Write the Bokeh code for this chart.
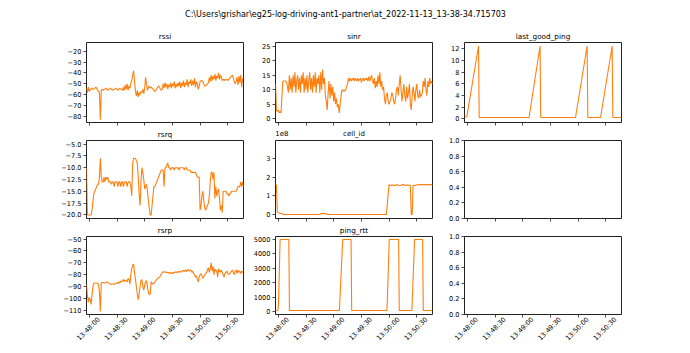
import numpy as np
import pandas as pd
from bokeh.plotting import figure
from bokeh.layouts import column, row
from bokeh.models import Range1d, FixedTicker, LinearAxis, ColumnDataSource
from bokeh.embed import file_html
from bokeh.resources import INLINE

# ---------------- data ----------------
SUPTITLE = r"C:\Users\grishar\eg25-log-driving-ant1-partner\at_2022-11-13_13-38-34.715703"
DAY = "2022-11-13"
T_START = pd.Timestamp("2022-11-13 13:47:56.900")
T_END = pd.Timestamp("2022-11-13 13:50:46.900")

x_tick_labels = ["13:48:00", "13:48:30", "13:49:00", "13:49:30", "13:50:00", "13:50:30"]

# 1-second samples starting at T_START
rssi = [-54, -58, -53, -57,
        -55, -55, -54, -55, -55,
        -54, -53, -54,
        -56, -57,
        -58, -83, -56,
        -55, -56, -55, -55, -54, -55, -56, -55, -55, -54, -55, -56, -55, -55, -55, -54, -55, -56, -55, -54, -55, -55, -56,
        -53, -56, -51, -55, -50, -56, -52, -54, -49,
        -47, -42, -38, -48,
        -57, -61, -56, -62, -58, -60, -57,
        -58, -55, -59, -54,
        -44, -50, -56,
        -53, -52, -54, -53,
        -54, -55, -56, -57, -56, -55, -53, -52, -53, -55, -56, -55,
        -50, -54, -49, -53, -50, -55, -51, -53, -49, -54, -50, -52, -48, -54, -50, -53, -49, -52, -48, -54,
        -49, -52, -47, -53, -49, -51, -46, -53, -48, -50, -46, -52, -47, -51, -45, -53, -48, -50, -55, -52,
        -48, -47, -47, -48, -50, -52, -52, -51, -50, -49,
        -44, -48, -42, -47, -43, -46, -41, -47, -43, -45, -40, -46, -42, -44, -47,
        -46, -46, -47, -46, -46, -47, -46, -45, -44, -43,
        -42, -45, -48, -50, -48,
        -44, -51, -43, -49, -42, -53, -45, -46]

sinr = [12, 3, 2.5, 3, 2, 2.5, 2, 8, 13, 13, 13, 13, 12.5, 11, 9,
        15, 10, 14, 9, 15, 11, 16, 9, 13, 15, 10, 14, 9, 15, 12, 16, 9, 14, 10, 15,
        9, 13, 16, 10, 14, 9, 15, 11, 16, 9, 14, 12, 15, 9, 16, 10, 17, 12, 14,
        8, 6, 3, 9, 13, 7, 12, 8, 11, 6, 9, 5, 7, 4, 5, 2, 5, 8, 10, 9.5, 10, 9.5, 10, 11, 12, 14,
        13, 14, 13, 13.5, 14, 13, 14, 13.5, 13, 14, 13, 13.5, 14, 12.5, 13.5, 14, 13, 14, 13.5, 14,
        13, 14.5, 13, 14, 15, 13,
        12, 14, 10.5, 13, 11, 15, 12, 16, 11, 13, 10, 11, 7,
        5, 8, 9, 6, 5, 6, 7, 9, 8, 6, 5, 7, 10, 11, 8, 12, 15, 10, 6, 9, 12, 8, 6, 11, 7,
        9, 12, 5, 3, 8, 11, 9, 6, 10, 12, 8, 7, 10, 7.5, 8, 9, 13, 11, 14, 10, 8, 13, 11, 14, 12,
        13, 12]

rsrq = [-10, -20, -20, -20, -20, -20, -19, -17, -15.5, -15, -14.5, -14, -13.5, -13.5, -12, -8,
        -12, -13, -13, -12, -13, -12, -12.5, -12, -13, -13, -13, -13.5, -13, -13, -14, -13,
        -13, -13, -14, -13, -13, -14, -13, -13, -14, -13, -13, -13, -14, -13, -13, -13, -14,
        -16, -9, -8, -8, -8, -8.5, -9, -12, -15.5, -18, -13, -10, -11, -12.5, -14.5, -14, -13.5,
        -15, -17, -18.5, -20, -20, -18, -16, -14, -14, -13.5, -13, -12.5, -12, -11.5, -11, -10.5, -10.5,
        -10.5, -14, -10, -10, -9.5, -9, -10, -10, -10.5, -10, -10, -10, -10.5, -10, -10, -10, -10,
        -10.5, -10, -10, -10, -10, -10, -10.5, -10, -10, -10.5, -10.5, -10.5, -10.5, -11, -11, -11,
        -11, -11, -11,
        -11.5, -12, -12, -12, -19, -18, -16, -15, -17, -18.5, -19, -18.5, -18, -17.5, -16,
        -13, -11, -11, -12.5, -11, -16.5, -14, -16, -15, -14.5, -16.5, -19, -18, -19.5, -15,
        -15, -15, -15, -15.5, -15.5, -16, -15.5, -15.5, -15, -15, -15, -15, -15, -15, -14.5,
        -14, -14, -14, -13, -14, -13, -14, -14]

rsrp = [-88, -98, -103, -99, -101, -105, -97, -90, -87,
        -87, -87, -87, -87.5, -88, -95, -111, -87,
        -86.5, -86.5, -87, -87, -86.5, -86, -86.5, -87, -87.5, -88, -88, -87.5, -88, -88, -87.5,
        -87, -87, -87.5, -86, -87, -85.5, -86, -85, -84, -86, -84.5, -85, -86, -83,
        -84, -88, -80, -75, -72, -71, -78, -84, -90, -96, -101, -96, -90, -85, -84, -90, -93, -89,
        -86, -85, -90, -95, -97, -96, -86, -87, -88, -87, -86, -85, -84, -83, -82.5, -82, -81,
        -79.5, -78,
        -77.5, -78, -77.5, -78, -78, -78, -78.5, -78, -79, -78.5, -78, -79, -78, -78, -77.5,
        -78, -78, -77, -77.5, -78, -77, -77, -76.5, -77, -76, -77.5, -76, -75.5, -77, -76.5,
        -76, -78, -77, -79, -80, -82, -81, -84, -86, -82, -80, -79, -81, -83, -81.5, -80, -79,
        -78, -76, -74, -78, -75, -70, -77, -73, -80, -75, -77, -76, -82, -75, -77, -78, -76,
        -78, -80, -82, -79, -78, -77, -79, -80, -79, -78, -77, -76, -78, -80, -77, -76, -79,
        -76, -78, -77, -79, -77, -78, -77]

# irregularly logged series: (seconds after T_START, value)
cell_t = [0, 1, 2, 3, 5, 7, 9, 47, 48, 49, 55, 56, 57, 120, 121, 122, 123, 125, 127, 129,
          131, 133, 135, 137, 139, 141, 143, 146, 147, 148, 149, 151, 153, 155, 160, 165, 170]
cell_id = [1.60e8, 1.58e8, 0.12e8, 0.10e8, 0.07e8, 0.04e8, 0.0, 0.0, 0.02e8, 0.05e8,
           0.05e8, 0.02e8, 0.0, 0.0, 0.50e8, 1.10e8, 1.60e8, 1.56e8, 1.58e8, 1.55e8,
           1.60e8, 1.57e8, 1.55e8, 1.59e8, 1.60e8, 1.56e8, 1.58e8, 1.56e8, 0.0, 0.0,
           1.57e8, 1.55e8, 1.58e8, 1.60e8, 1.60e8, 1.60e8, 1.60e8]

ping_t = [0, 2.5, 3.2, 5.0, 14.4, 15.1, 69.2, 72.8, 81.8, 82.5, 120.7, 123.2, 133.3, 134.0,
          147.7, 150.6, 159.3, 160.0, 170]
ping_rtt = [50, 60, 400, 5000, 5000, 60, 60, 5000, 5000, 60, 60, 5000, 5000, 60,
            60, 5000, 5000, 60, 60]

lgp_t = [0, 2, 2.6, 15.2, 15.9, 69.9, 81.8, 82.5, 120.2, 132.8, 133.5, 147.3, 159.9, 160.6, 170]
last_good_ping = [0.3, 0.4, 0.5, 12.5, 0.25, 0.25, 12.5, 0.25, 0.25, 12.5, 0.25, 0.25, 12.5, 0.25, 0.25]

# y ticks / labels
rssi_ticks = [-80, -70, -60, -50, -40, -30, -20]
rssi_labels = ["\u221280", "\u221270", "\u221260", "\u221250", "\u221240", "\u221230", "\u221220"]
sinr_ticks = [0, 5, 10, 15, 20, 25]
sinr_labels = ["0", "5", "10", "15", "20", "25"]
lgp_ticks = [0, 2, 4, 6, 8, 10, 12]
lgp_labels = ["0", "2", "4", "6", "8", "10", "12"]
rsrq_ticks = [-20, -17.5, -15, -12.5, -10, -7.5, -5]
rsrq_labels = ["\u221220.0", "\u221217.5", "\u221215.0", "\u221212.5", "\u221210.0", "\u22127.5", "\u22125.0"]
cell_ticks = [0, 1e8, 2e8, 3e8]
cell_labels = ["0", "1", "2", "3"]
cell_offset_text = "1e8"
rsrp_ticks = [-110, -100, -90, -80, -70, -60, -50]
rsrp_labels = ["\u2212110", "\u2212100", "\u221290", "\u221280", "\u221270", "\u221260", "\u221250"]
ping_ticks = [0, 1000, 2000, 3000, 4000, 5000]
ping_labels = ["0", "1000", "2000", "3000", "4000", "5000"]
empty_ticks = [0, 0.2, 0.4, 0.6, 0.8, 1.0]
empty_labels = ["0.0", "0.2", "0.4", "0.6", "0.8", "1.0"]

# ---------------- styling / layout ----------------
LINE_COLOR = "#ff7f0e"
FRAME_COLOR = "#222222"
FONT = "DejaVu Sans"
TICK_FS = "6.6px"
TITLE_FS = "7.3px"
LABEL_SHIFT_S = 10.5    # mimic centred rotated labels
OFFSET_TEXT_S = 7.0     # centre of the "1e8" text, seconds after T_START

W_FRAME, H_FRAME = 157, 80
COLS = [(86, 2), (30, 2), (30, 69)]
ROWS = [(18, 4), (12, 4), (12, 39)]

def ms(ts):
    return ts.value / 1e6

x_ticks_ms = [ms(pd.Timestamp(f"{DAY} {s}")) for s in x_tick_labels]
x_lab_ms = [v + LABEL_SHIFT_S * 1000 for v in x_ticks_ms]

def times_regular(n):
    return (T_START + pd.to_timedelta(np.arange(n), unit="s")).to_numpy()

def times_from(offsets):
    return (T_START + pd.to_timedelta(np.array(offsets, dtype=float), unit="s")).to_numpy()

def text_axis(ticks, labels, size, standoff, orientation="horizontal"):
    return LinearAxis(ticker=FixedTicker(ticks=ticks, minor_ticks=[]),
                      major_label_overrides={v: s for v, s in zip(ticks, labels)},
                      axis_line_color=None, major_tick_line_color=None,
                      minor_tick_line_color=None, major_tick_in=0, major_tick_out=0,
                      major_label_standoff=standoff,
                      major_label_orientation=orientation,
                      major_label_text_font=FONT, major_label_text_font_size=size,
                      major_label_text_color="black")

def make_panel(r, c, title, xs, ys, yr, yticks, ylabels):
    bl, br = COLS[c]
    bt, bb = ROWS[r]
    kw = {}
    if title:
        kw["title"] = title
    p = figure(width=bl + W_FRAME + br, height=bt + H_FRAME + bb,
               x_axis_type="datetime",
               x_range=Range1d(T_START, T_END), y_range=Range1d(*yr),
               toolbar_location=None, output_backend="svg",
               min_border_left=bl, min_border_right=br,
               min_border_top=bt, min_border_bottom=bb, **kw)
    if title:
        p.title.align = "center"
        p.title.text_font = FONT
        p.title.text_font_size = TITLE_FS
        p.title.text_font_style = "normal"
        p.title.text_color = "black"
        p.title.standoff = 3
    p.grid.visible = False
    p.outline_line_color = FRAME_COLOR
    p.outline_line_width = 1
    for ax in p.axis:
        ax.axis_line_color = None
        ax.major_tick_in = 0
        ax.major_tick_out = 3
        ax.major_tick_line_color = FRAME_COLOR
        ax.major_tick_line_width = 0.8
        ax.minor_tick_in = 0
        ax.minor_tick_out = 3
        ax.minor_tick_line_color = FRAME_COLOR
        ax.minor_tick_line_width = 0.8
        ax.major_label_text_font = FONT
        ax.major_label_text_font_size = TICK_FS
        ax.major_label_text_color = "black"
    # x tick marks only (drawn as label-less minor ticks)
    p.xaxis.ticker = FixedTicker(ticks=[], minor_ticks=x_ticks_ms)
    p.yaxis.ticker = FixedTicker(ticks=yticks, minor_ticks=[])
    p.yaxis.major_label_overrides = {v: s for v, s in zip(yticks, ylabels)}
    p.yaxis.major_label_standoff = 2
    if r == 2:
        p.add_layout(text_axis(x_lab_ms, x_tick_labels, TICK_FS, 1, np.pi / 4), "below")
    if xs is not None:
        src = ColumnDataSource(dict(x=xs, y=ys))
        p.line("x", "y", source=src, line_color=LINE_COLOR, line_width=1.1)
    return p

p_rssi = make_panel(0, 0, "rssi", times_regular(len(rssi)), rssi, (-85.5, -12.1), rssi_ticks, rssi_labels)
p_sinr = make_panel(0, 1, "sinr", times_regular(len(sinr)), sinr, (-1.3, 26.3), sinr_ticks, sinr_labels)
p_lgp = make_panel(0, 2, "last_good_ping", times_from(lgp_t), last_good_ping, (-0.6, 13.1), lgp_ticks, lgp_labels)
p_rsrq = make_panel(1, 0, "rsrq", times_regular(len(rsrq)), rsrq, (-20.75, -4.25), rsrq_ticks, rsrq_labels)
# cell_id: title and the "1e8" offset text share one header line
p_cell = make_panel(1, 1, None, times_from(cell_t), cell_id, (-0.21e8, 3.96e8), cell_ticks, cell_labels)
cell_head_ms = [ms(T_START) + OFFSET_TEXT_S * 1000, (ms(T_START) + ms(T_END)) / 2]
p_cell.add_layout(text_axis(cell_head_ms, [cell_offset_text, "cell_id"], "7px", 3), "above")
p_e1 = make_panel(1, 2, None, None, None, (0, 1), empty_ticks, empty_labels)
p_rsrp = make_panel(2, 0, "rsrp", times_regular(len(rsrp)), rsrp, (-113.5, -47.8), rsrp_ticks, rsrp_labels)
p_ping = make_panel(2, 1, "ping_rtt", times_from(ping_t), ping_rtt, (-215, 5210), ping_ticks, ping_labels)
p_e2 = make_panel(2, 2, None, None, None, (0, 1), empty_ticks, empty_labels)

head = figure(width=690, height=24, toolbar_location=None, output_backend="svg",
              x_axis_location=None, y_axis_location=None, title=SUPTITLE,
              min_border_left=0, min_border_right=0, min_border_top=19, min_border_bottom=0)
head.title.align = "center"
head.title.text_font = FONT
head.title.text_font_size = "8px"
head.title.text_font_style = "normal"
head.title.text_color = "black"
head.title.standoff = 2
head.outline_line_color = None
head.grid.visible = False

layout = column(head,
                row(p_rssi, p_sinr, p_lgp),
                row(p_rsrq, p_cell, p_e1),
                row(p_rsrp, p_ping, p_e2))

open("out.html", "w").write(file_html(layout, INLINE))
